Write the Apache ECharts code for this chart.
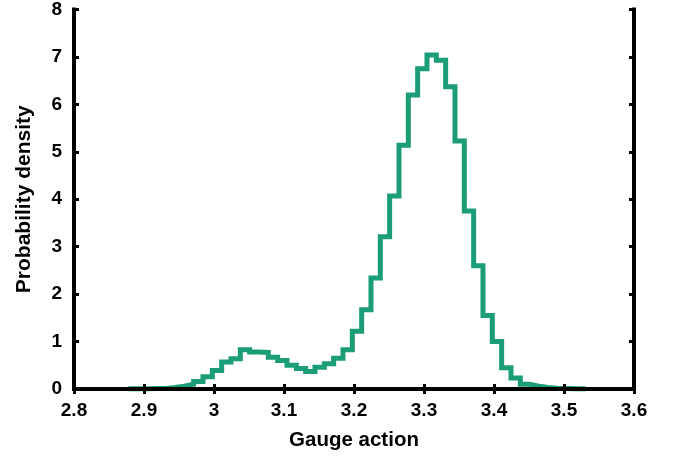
<!DOCTYPE html>
<html>
<head>
<meta charset="utf-8">
<script src="https://cdn.jsdelivr.net/npm/echarts@6/dist/echarts.min.js"></script>
<style>html,body{margin:0;padding:0;background:#fff}#c{width:677px;height:459px}</style>
</head>
<body>
<div id="c"></div>
<script>
// Histogram bins
var binStart = 2.8776;
var binWidth = 0.013333;
var densities = [
  0.003, 0.005, 0.008, 0.012, 0.03, 0.06, 0.10, 0.16, 0.26, 0.39,
  0.57, 0.64, 0.83, 0.78, 0.77, 0.67, 0.60, 0.50, 0.43, 0.37,
  0.46, 0.53, 0.65, 0.83, 1.22, 1.67, 2.34, 3.21, 4.07, 5.14,
  6.20, 6.75, 7.04, 6.93, 6.37, 5.23, 3.75, 2.60, 1.55, 1.00,
  0.45, 0.23, 0.10, 0.06, 0.03, 0.015, 0.008, 0.005, 0.003
];
var xTicks = { min: 2.8, max: 3.6, interval: 0.1 };
var yTicks = { min: 0, max: 8, interval: 1 };

var pts = [];
for (var i = 0; i < densities.length; i++) {
  pts.push([binStart + i * binWidth, densities[i]]);
}
pts.push([binStart + densities.length * binWidth, densities[densities.length - 1]]);

var FONT = '"Liberation Sans", Arial, sans-serif';
function axLine() { return { show: true, lineStyle: { color: '#000', width: 4, cap: 'square' } }; }
function axTick() { return { show: true, inside: true, length: 5, lineStyle: { color: '#000', width: 3 } }; }

var chart = echarts.init(document.getElementById('c'));
chart.setOption({
  animation: false,
  backgroundColor: '#fff',
  grid: { left: 74, right: 43, top: 9, bottom: 70, containLabel: false },
  xAxis: [{
    type: 'value', position: 'bottom', min: xTicks.min, max: xTicks.max, interval: xTicks.interval,
    z: 5,
    axisLine: axLine(), axisTick: axTick(), splitLine: { show: false },
    axisLabel: { color: '#000', fontFamily: FONT, fontWeight: 'bold', fontSize: 19, margin: 12 },
    name: 'Gauge action', nameLocation: 'middle', nameGap: 41,
    nameTextStyle: { color: '#000', fontFamily: FONT, fontWeight: 'bold', fontSize: 20.5 }
  }, {
    type: 'value', position: 'top', min: xTicks.min, max: xTicks.max, interval: xTicks.interval,
    z: 5,
    axisLine: axLine(), axisTick: axTick(), splitLine: { show: false }, axisLabel: { show: false }
  }],
  yAxis: [{
    type: 'value', position: 'left', min: yTicks.min, max: yTicks.max, interval: yTicks.interval,
    z: 5,
    axisLine: axLine(), axisTick: axTick(), splitLine: { show: false },
    axisLabel: { color: '#000', fontFamily: FONT, fontWeight: 'bold', fontSize: 19, margin: 12 },
    name: 'Probability density', nameLocation: 'middle', nameGap: 39,
    nameTextStyle: { color: '#000', fontFamily: FONT, fontWeight: 'bold', fontSize: 21 }
  }, {
    type: 'value', position: 'right', min: yTicks.min, max: yTicks.max, interval: yTicks.interval,
    z: 5,
    axisLine: axLine(), axisTick: axTick(), splitLine: { show: false }, axisLabel: { show: false }
  }],
  series: [{
    type: 'line', step: 'end', data: pts, showSymbol: false, symbol: 'none',
    xAxisIndex: 0, yAxisIndex: 0, clip: false,
    lineStyle: { color: '#1b9e77', width: 5, join: 'miter' }
  }]
});
</script>
</body>
</html>
